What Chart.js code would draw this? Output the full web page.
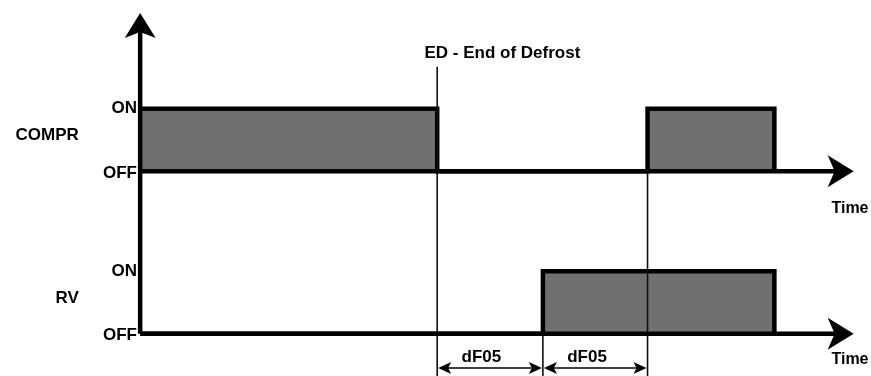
<!DOCTYPE html>
<html>
<head>
<meta charset="utf-8">
<script src="https://cdn.jsdelivr.net/npm/chart.js@4.4.1/dist/chart.umd.min.js"></script>
<style>
  html, body { margin: 0; padding: 0; background: #fff; }
  #wrap { width: 871px; height: 376px; }
</style>
</head>
<body>
<div id="wrap"><canvas id="timing"></canvas></div>
<script>
// Time in dF05 units, levels in signal units (OFF = base, ON = base + 1)
const comprTimes = [0, 2.81, 2.81, 4.8, 4.8, 6.0, 6.0];
const comprStates = [1, 1, 0, 0, 1, 1, 0];
const rvTimes = [0, 3.81, 3.81, 6.0, 6.0];
const rvStates = [0, 0, 1, 1, 0];
const signalNames = ['COMPR', 'RV'];
const signalBase = [2.6, 0];
const stateLabels = ['ON', 'OFF'];
const timeEnd = 6.75;
const yAxisTop = 5.13;
const edTime = 2.81;
const edLabel = 'ED - End of Defrost';
const dimTimes = [2.81, 3.81, 4.8];
const dimLabel = 'dF05';
const axisLabel = 'Time';

const FONT = 'bold 17px "Liberation Sans", Arial, sans-serif';

const toPoints = (times, states, base) => times.map((t, i) => ({ x: t, y: base + states[i] }));
const seg = (x0, y0, x1, y1) => [{ x: x0, y: y0 }, { x: x1, y: y1 }];
const lineSet = (data, extra) => Object.assign({
    data,
    pointRadius: 0,
    borderColor: '#000',
    borderWidth: 4.5,
    fill: false,
    tension: 0,
    borderCapStyle: 'butt',
    borderJoinStyle: 'miter'
}, extra);

const datasets = [
    lineSet(toPoints(comprTimes, comprStates, signalBase[0]), { fill: { value: signalBase[0] }, backgroundColor: '#707070', order: 3 }),
    lineSet(toPoints(rvTimes, rvStates, signalBase[1]), { fill: { value: signalBase[1] }, backgroundColor: '#707070', order: 3 }),
    // thin guide lines
    lineSet(seg(edTime, 4.27, edTime, -1), { borderWidth: 1.6, borderColor: '#111', order: 2 }),
    lineSet(seg(dimTimes[1], signalBase[1], dimTimes[1], -1), { borderWidth: 1.6, borderColor: '#111', order: 2 }),
    lineSet(seg(dimTimes[2], signalBase[0], dimTimes[2], -1), { borderWidth: 1.6, borderColor: '#111', order: 2 }),
    // axes
    lineSet(seg(0, signalBase[0], timeEnd - 0.15, signalBase[0]), { order: 1 }),
    lineSet(seg(0, signalBase[1], timeEnd - 0.15, signalBase[1]), { order: 1 }),
    lineSet(seg(0, signalBase[1], 0, yAxisTop - 0.25), { order: 1 })
];

function arrowHead(ctx, tx, ty, ang, len, half, notch) {
    ctx.save();
    ctx.translate(tx, ty);
    ctx.rotate(ang);
    ctx.beginPath();
    ctx.moveTo(0, 0);
    ctx.lineTo(-len, -half);
    ctx.lineTo(-len + notch, 0);
    ctx.lineTo(-len, half);
    ctx.closePath();
    ctx.fillStyle = '#000';
    ctx.fill();
    ctx.restore();
}

const overlay = {
    id: 'overlay',
    afterDatasetsDraw(chart) {
        const { ctx, scales: { x, y } } = chart;
        ctx.save();

        // arrow heads on axes
        arrowHead(ctx, x.getPixelForValue(0), y.getPixelForValue(yAxisTop), -Math.PI / 2, 25, 15.5, 6);
        signalBase.forEach(b => {
            arrowHead(ctx, x.getPixelForValue(timeEnd), y.getPixelForValue(b), 0, 26, 16, 7);
        });

        // dF05 dimension arrows
        const dimY = y.getPixelForValue(-0.55);
        ctx.strokeStyle = '#000';
        ctx.lineWidth = 1.6;
        for (let i = 0; i < dimTimes.length - 1; i++) {
            const a = x.getPixelForValue(dimTimes[i]);
            const b = x.getPixelForValue(dimTimes[i + 1]);
            ctx.beginPath();
            ctx.moveTo(a + 4, dimY);
            ctx.lineTo(b - 4, dimY);
            ctx.stroke();
            arrowHead(ctx, a + 1, dimY, Math.PI, 13, 6, 3);
            arrowHead(ctx, b - 1, dimY, 0, 13, 6, 3);
        }

        // texts
        ctx.fillStyle = '#000';
        ctx.font = FONT;
        ctx.textBaseline = 'middle';

        ctx.textAlign = 'right';
        signalNames.forEach((name, i) => {
            ctx.fillText(name, x.getPixelForValue(-0.58), y.getPixelForValue(signalBase[i] + 0.57));
            ctx.fillText(stateLabels[0], x.getPixelForValue(-0.03), y.getPixelForValue(signalBase[i] + 1));
            ctx.fillText(stateLabels[1], x.getPixelForValue(-0.03), y.getPixelForValue(signalBase[i] - 0.03));
        });

        ctx.textAlign = 'left';
        ctx.fillText(edLabel, x.getPixelForValue(2.69), y.getPixelForValue(4.49));
        for (let i = 0; i < dimTimes.length - 1; i++) {
            ctx.fillText(dimLabel, x.getPixelForValue(dimTimes[i] + 0.23), y.getPixelForValue(-0.37));
        }

        ctx.font = 'bold 16px "Liberation Sans", Arial, sans-serif';
        ctx.fillText(axisLabel, x.getPixelForValue(6.54), y.getPixelForValue(signalBase[0] - 0.6));
        ctx.fillText(axisLabel, x.getPixelForValue(6.54), y.getPixelForValue(signalBase[1] - 0.41));

        ctx.restore();
    }
};

new Chart(document.getElementById('timing'), {
    type: 'line',
    data: { datasets },
    options: {
        responsive: true,
        maintainAspectRatio: false,
        animation: false,
        layout: { padding: 0 },
        scales: {
            x: { type: 'linear', min: -1.326, max: 6.914, display: false },
            y: { type: 'linear', min: -0.677, max: 5.339, display: false }
        },
        plugins: { legend: { display: false }, tooltip: { enabled: false } }
    },
    plugins: [overlay]
});
</script>
</body>
</html>
